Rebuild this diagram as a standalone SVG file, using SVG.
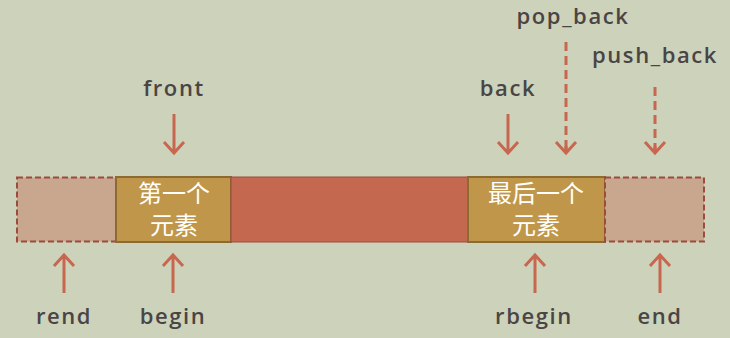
<svg xmlns="http://www.w3.org/2000/svg" width="730" height="338" viewBox="0 0 730 338">
  <defs>
    <style>
      .lbl { font-family: "Open Sans", "DejaVu Sans", sans-serif; font-weight: 600; font-size: 22px; fill: #4a4545; text-anchor: middle; letter-spacing: 1.6px; }
      .cn { font-family: "Noto Sans CJK SC", sans-serif; font-size: 24px; fill: #ffffff; text-anchor: middle; }
      .ghost { fill: #c9a78e; stroke: #9c4b3c; stroke-width: 2; stroke-dasharray: 6 3; }
      .elem { fill: #c0974a; stroke: #8c6a30; stroke-width: 2; }
      .mid { fill: #c46850; stroke: #9c4b3c; stroke-width: 1; }
      .arr { stroke: #c8674f; stroke-width: 3; fill: none; }
      .dash { stroke-dasharray: 9 5; }
    </style>
  </defs>
  <rect width="730" height="338" fill="#cdd2bb"/>

  <g id="node-rend-slot"><rect class="ghost" x="17" y="177.5" width="99" height="64"/></g>
  <g id="node-first">
    <rect class="elem" x="116" y="177" width="115" height="65"/>
    <text class="cn" x="174" y="202">第一个</text>
    <text class="cn" x="174" y="234">元素</text>
  </g>
  <g id="node-middle"><rect class="mid" x="231" y="177" width="237" height="65"/></g>
  <g id="node-last">
    <rect class="elem" x="468" y="177" width="137" height="65"/>
    <text class="cn" x="536" y="202">最后一个</text>
    <text class="cn" x="536" y="234">元素</text>
  </g>
  <g id="node-end-slot"><rect class="ghost" x="605" y="177.5" width="99" height="64"/></g>

  <g id="labels">
    <text class="lbl" x="174" y="96">front</text>
    <text class="lbl" x="508" y="96">back</text>
    <text class="lbl" x="573" y="24">pop_back</text>
    <text class="lbl" x="655" y="63">push_back</text>
    <text class="lbl" x="64" y="324">rend</text>
    <text class="lbl" x="173" y="324">begin</text>
    <text class="lbl" x="534" y="324">rbegin</text>
    <text class="lbl" x="660" y="324">end</text>
  </g>

  <g id="connectors">
    <path class="arr" d="M174 114 V153 M164 142 L174 153 L184 142"/>
    <path class="arr" d="M508 114 V153 M498 142 L508 153 L518 142"/>
    <path class="arr dash" d="M566 42 V150"/>
    <path class="arr" d="M556 142 L566 153 L576 142 M566 146 V153"/>
    <path class="arr dash" d="M655 87 V150"/>
    <path class="arr" d="M645 142 L655 153 L665 142 M655 146 V153"/>
    <path class="arr" d="M64 293 V255 M54 266 L64 255 L74 266"/>
    <path class="arr" d="M173 293 V255 M163 266 L173 255 L183 266"/>
    <path class="arr" d="M535 293 V255 M525 266 L535 255 L545 266"/>
    <path class="arr" d="M660 293 V255 M650 266 L660 255 L670 266"/>
  </g>
</svg>
